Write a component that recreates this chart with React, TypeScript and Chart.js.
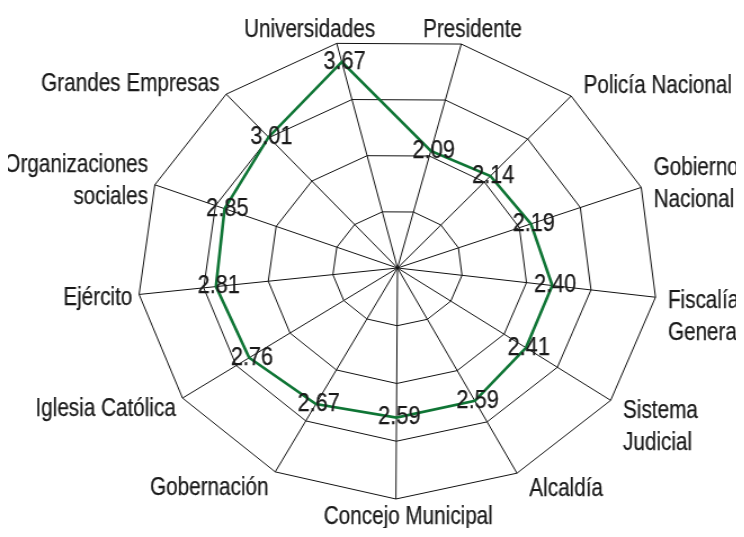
import React, { useEffect, useRef } from "react";
import { Chart, registerables } from "chart.js";

Chart.register(...registerables);

// ---- data ----
const categories: (string | string[])[] = [
  "Universidades",
  "Presidente",
  "Policía Nacional",
  ["Gobierno", "Nacional"],
  ["Fiscalía", "General"],
  ["Sistema", "Judicial"],
  "Alcaldía",
  "Concejo Municipal",
  "Gobernación",
  "Iglesia Católica",
  "Ejército",
  ["Organizaciones", "sociales"],
  "Grandes Empresas",
];
const values: number[] = [3.67, 2.09, 2.14, 2.19, 2.4, 2.41, 2.59, 2.59, 2.67, 2.76, 2.81, 2.85, 3.01];
const scaleMin = 0;
const scaleMax = 4;
const scaleStep = 1;

// ---- style ----
const FONT = "'Liberation Sans', Arial, Helvetica, sans-serif";
const LABEL_SIZE = 25;
const LABEL_SQUEEZE = 0.735;
const VALUE_SIZE = 26;
const VALUE_SQUEEZE = 0.745;
const STRETCH = 1.126;
const W = 660;
const H = 520;

function drawSqueezed(ctx: CanvasRenderingContext2D, text: string, x: number, y: number, k: number) {
  ctx.save();
  ctx.translate(x, y);
  ctx.scale(k, 1);
  ctx.fillText(text, 0, 0);
  ctx.strokeText(text, 0, 0);
  ctx.restore();
}

const pointLabelPlugin = {
  id: "customPointLabels",
  afterDraw(chart: any) {
    const scale = chart.scales.r;
    const ctx = chart.ctx as CanvasRenderingContext2D;
    const labels = chart.data.labels as (string | string[])[];
    const capH = 0.716 * LABEL_SIZE;
    const LH = 31.7;
    ctx.save();
    ctx.fillStyle = "#1a1a1a";
    ctx.strokeStyle = "#1a1a1a";
    ctx.lineWidth = 0.25;
    ctx.font = `${LABEL_SIZE}px ${FONT}`;
    ctx.textBaseline = "alphabetic";
    labels.forEach((lab, i) => {
      const lines = Array.isArray(lab) ? lab : [lab];
      const n = lines.length;
      const v = scale.getPointPosition(i, scale.drawingArea);
      const a = scale.getIndexAngle(i);
      const sin = Math.sin(a);
      const cos = Math.cos(a);
      let x: number;
      let align: CanvasTextAlign;
      if (Math.abs(sin) < 0.35) {
        if (cos > 0) {
          if (sin < 0) {
            align = "right";
            x = v.x + 34;
          } else {
            align = "left";
            x = v.x - 34;
          }
        } else {
          align = "center";
          x = v.x + 11;
        }
      } else if (sin > 0) {
        align = "left";
        x = v.x + 11;
      } else {
        align = "right";
        x = v.x - 6;
      }
      const off = -16 * cos;
      let firstMid: number;
      if (n > 1 && cos < 0) firstMid = v.y + off;
      else firstMid = v.y + off - ((n - 1) * LH) / 2;
      ctx.textAlign = align;
      lines.forEach((t, k) => {
        drawSqueezed(ctx, t, x, firstMid + k * LH + capH / 2, LABEL_SQUEEZE);
      });
    });
    ctx.restore();
  },
};

const valueLabelPlugin = {
  id: "valueLabels",
  afterDatasetsDraw(chart: any) {
    const ctx = chart.ctx as CanvasRenderingContext2D;
    const meta = chart.getDatasetMeta(0);
    const data = chart.data.datasets[0].data as number[];
    ctx.save();
    ctx.fillStyle = "#1a1a1a";
    ctx.strokeStyle = "#1a1a1a";
    ctx.lineWidth = 0.25;
    ctx.font = `${VALUE_SIZE}px ${FONT}`;
    ctx.textAlign = "center";
    ctx.textBaseline = "alphabetic";
    const capH = 0.716 * VALUE_SIZE;
    meta.data.forEach((pt: any, i: number) => {
      drawSqueezed(ctx, data[i].toFixed(2), pt.x + 2.5, pt.y - 2.5 + capH / 2, VALUE_SQUEEZE);
    });
    ctx.restore();
  },
};

export default function App() {
  const ref = useRef<HTMLCanvasElement>(null);
  useEffect(() => {
    if (!ref.current) return;
    const chart = new Chart(ref.current, {
      type: "radar",
      data: {
        labels: categories as any,
        datasets: [
          {
            data: values,
            borderColor: "#0f7535",
            borderWidth: 2.6,
            fill: false,
            pointRadius: 0,
            pointHoverRadius: 0,
            tension: 0,
          },
        ],
      },
      options: {
        animation: false,
        responsive: false,
        events: [],
        layout: { padding: { top: 29, bottom: 29, left: 73, right: 27 } },
        plugins: { legend: { display: false }, tooltip: { enabled: false } },
        scales: {
          r: {
            min: scaleMin,
            max: scaleMax,
            startAngle: -13.5,
            ticks: { display: false, stepSize: scaleStep },
            grid: { color: "#111", lineWidth: 1, circular: false },
            angleLines: { color: "#111", lineWidth: 1 },
            pointLabels: { display: false },
          },
        },
      },
      plugins: [valueLabelPlugin, pointLabelPlugin],
    });
    return () => chart.destroy();
  }, []);
  return (
    <div
      style={{
        width: W,
        height: H,
        marginLeft: -8,
        transform: `scaleX(${STRETCH})`,
        transformOrigin: "0 0",
      }}
    >
      <canvas ref={ref} width={W} height={H} style={{ display: "block" }} />
    </div>
  );
}
